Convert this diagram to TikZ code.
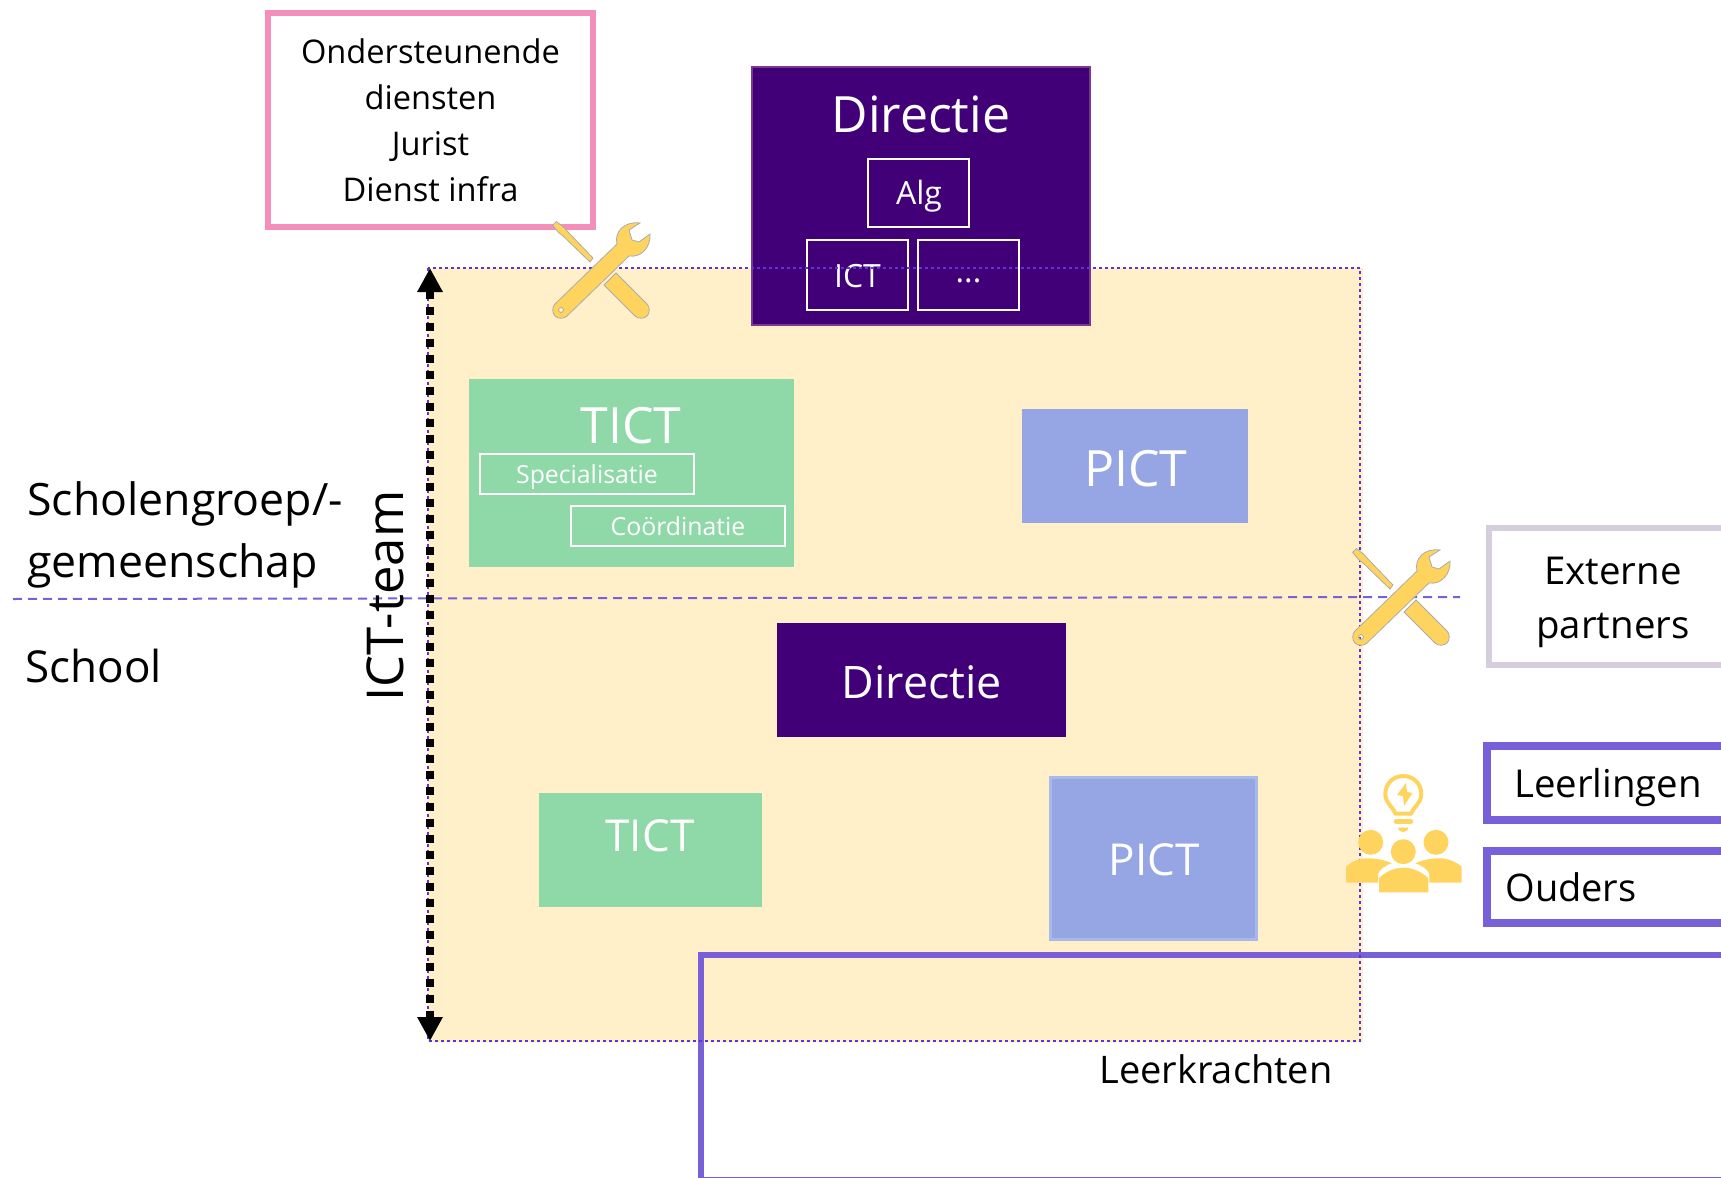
\documentclass[tikz,border=0pt]{standalone}
\usepackage{fontspec}
\setmainfont{Open Sans}
\usetikzlibrary{arrows.meta}

\definecolor{regie}{HTML}{420078}
\definecolor{tictgreen}{HTML}{8FD9A9}
\definecolor{pictblue}{HTML}{96A5E3}
\definecolor{pictedge}{HTML}{A9B9E9}
\definecolor{area}{HTML}{FFF0C9}
\definecolor{lijn}{HTML}{7860D8}
\definecolor{punt}{HTML}{5A36D6}
\definecolor{roze}{HTML}{F48FBB}
\definecolor{extern}{HTML}{D5CEDC}
\definecolor{icoon}{HTML}{FFD45E}
\definecolor{icoonrand}{HTML}{ABABAB}

\newcommand{\fs}[1]{\fontsize{#1}{1.25\dimexpr#1pt\relax}\selectfont}

\begin{document}
\begin{tikzpicture}[x=.5pt, y=-.5pt,
    regiebox/.style={fill=regie, draw=regie!70!pink, line width=.6pt},
    tictbox/.style={fill=tictgreen},
    pictbox/.style={fill=pictblue},
    wit/.style={draw=white, line width=1.1pt},
    witlabel/.style={text=white, inner sep=0pt},
    zwart/.style={text=black, inner sep=0pt},
    kader/.style={draw=lijn, line width=3pt},
    grijs/.style={fill=icoon, draw=icoonrand, line width=.4pt, even odd rule},
    geel/.style={fill=icoon}]
\path[use as bounding box, clip] (0,0) rectangle (1721,1178);

% ondersteuning
\node[draw=roze, line width=3pt, minimum width=162.5pt, minimum height=107pt, inner sep=0pt, outer sep=0pt,
      align=center, font=\fontsize{16.3}{23}\selectfont] (diensten) at (430.5,120)
      {Ondersteunende\\diensten\\Jurist\\Dienst infra};

% ICT-team vlak
\fill[area] (428,268) rectangle (1363,1042);
\coordinate (splitL) at (13,599);
\coordinate (splitR) at (1460,597);
\draw[lijn, line width=1pt, dash pattern=on 4.5pt off 3pt] (splitL) -- (splitR);

% scholengroep
\node[regiebox, minimum width=169pt, minimum height=129pt, inner sep=0pt] (dirtop) at (921,196) {};
\node[witlabel, font=\fs{25}] (dirtoplabel) at (921,114) {Directie};
\node[wit, minimum width=50.5pt, minimum height=34pt, inner sep=0pt] (alg) at (918.5,193) {};
\node[witlabel, font=\fs{16}] (alglabel) at (919,196) {Alg};
\node[wit, minimum width=50.5pt, minimum height=35pt, inner sep=0pt] (ict) at (857.5,275) {};
\node[witlabel, font=\fs{16}] (ictlabel) at (857.5,276.5) {ICT};
\node[wit, minimum width=50.5pt, minimum height=35pt, inner sep=0pt] (rest) at (968.5,275) {};
\node[witlabel, font=\fs{16}] (restlabel) at (968.5,281) {...};

\node[tictbox, minimum width=162.5pt, minimum height=94pt, inner sep=0pt] (tictgroep) at (631.5,473) {};
\node[witlabel, font=\fs{25}] (tictgrooplabel) at (631,426) {TICT};
\node[wit, minimum width=107pt, minimum height=20pt, inner sep=0pt] (special) at (587,474) {};
\node[witlabel, font=\fs{12.4}] (speciallabel) at (587,477) {Specialisatie};
\node[wit, minimum width=107pt, minimum height=20pt, inner sep=0pt] (coord) at (678,526) {};
\node[witlabel, font=\fs{12.4}] (coordlabel) at (678,526) {Coördinatie};

\node[pictbox, minimum width=113pt, minimum height=57pt, inner sep=0pt] (pictgroep) at (1135,466) {};
\node[witlabel, font=\fs{25}] (pictgrooplabel) at (1136,469) {PICT};

% school
\node[regiebox, draw=regie, minimum width=143.5pt, minimum height=56.5pt, inner sep=0pt] (dirschool) at (921.5,680) {};
\node[witlabel, font=\fs{22.4}] (dirschoollabel) at (922,682) {Directie};
\node[tictbox, minimum width=111.5pt, minimum height=57pt, inner sep=0pt] (tictschool) at (650.5,850) {};
\node[witlabel, font=\fs{22}] (tictschoollabel) at (650,836) {TICT};
\node[pictbox, draw=pictedge, line width=1.5pt, minimum width=103pt, minimum height=81pt, inner sep=0pt] (pictschool) at (1153.5,858.5) {};
\node[witlabel, font=\fs{22}] (pictschoollabel) at (1154,860) {PICT};

\draw[kader] (701,955) rectangle (1760,1180);
\node[zwart, font=\fs{19}] (leerkrachten) at (1216,1069) {Leerkrachten};

\draw[punt, line width=1.4pt, dash pattern=on 1.5pt off 1.5pt] (428,268) rectangle (1360,1041);

\coordinate (teamT) at (430,268);
\coordinate (teamB) at (430,1041);
\draw[black, line width=4pt, dash pattern=on 4pt off 4pt, {Triangle[width=12pt,length=12pt]}-{Triangle[width=12pt,length=12pt]}] (teamT) -- (teamB);

% links
\node[zwart, anchor=west, align=left, font=\fontsize{22.3}{30.7}\selectfont] (niveaugroep) at (27,535) {Scholengroep/-\\gemeenschap};
\node[zwart, anchor=west, font=\fs{22}] (niveauschool) at (25,666) {School};
\node[zwart, rotate=90, font=\fs{25.4}] (ictteam) at (385,596) {ICT-team};

% rechts
\draw[extern, line width=3pt] (1488.5,527.5) rectangle (1760,664.5);
\node[zwart, align=center, font=\fontsize{19.2}{27}\selectfont] (externe) at (1613,602) {Externe\\partners};
\draw[kader, line width=4pt] (1487,746) rectangle (1760,820);
\node[zwart, font=\fs{19.2}] (leerlingen) at (1608,788) {Leerlingen};
\draw[kader, line width=4pt] (1487,850.5) rectangle (1760,922.5);
\node[zwart, font=\fs{19}] (ouders) at (1571,887) {Ouders};

% gereedschap
\foreach \ix/\iy in {552/222,1352/549}{
\begin{scope}[shift={(\ix,\iy)}]
    \filldraw[grijs] (.7,3.3) -- (4.3,-.5) -- (12,5.5) -- (15,9) -- (41,36) -- (38,40) -- (11,14) -- (7,11) -- cycle;
    \filldraw[grijs] (52,63) -- (64,51) -- (95,82) .. controls (98,85) and (98,91) .. (95,94)
        .. controls (92,97) and (86,97) .. (83,94) -- cycle;
    \filldraw[grijs] (65,22) .. controls (62,10) and (72,-1) .. (88,1) -- (77,8) -- (80,18) -- (87,20) -- (98,12)
        .. controls (99,24) and (90,36) .. (77,34) -- (15,94) .. controls (12,97) and (6,97) .. (3,94)
        .. controls (0,91) and (0,85) .. (3,82) -- cycle (9,88) circle (2.5);
\end{scope}
}

% idee
\begin{scope}[shift={(1346,774)}]
    \draw[icoon, line width=2pt] (49.5,39.5) .. controls (47,33) and (39.3,29) .. (39.3,20)
        .. controls (39.3,10) and (47,2) .. (57.3,2) .. controls (67.6,2) and (75.3,10) .. (75.3,20)
        .. controls (75.3,29) and (67.6,33) .. (65,39.5) -- cycle;
    \fill[geel] (60,9) -- (51,21) -- (57,22) -- (58,32) -- (66.5,19) -- (61,18) -- cycle;
    \draw[icoon, line width=2.2pt, line cap=round] (50,47.5) -- (65,47.5);
    \fill[geel] (52,53.5) -- (62.5,53.5) .. controls (62,57) and (59,58) .. (57.3,58) .. controls (55,58) and (52.5,57) .. (52,53.5) -- cycle;
    \fill[geel] (24.7,68.3) circle (12.5);
    \fill[geel] (90,68.3) circle (12.5);
    \fill[geel] (57.3,77.7) circle (12.5);
    \fill[geel] (0,108.7) -- (0,92.7) .. controls (6,87) and (14,84.3) .. (22,84.3) .. controls (30,84.3) and (39,86) .. (45.7,89.3)
        .. controls (38,92) and (33,96) .. (32,100) -- (32,108.7) -- cycle;
    \fill[geel] (115.7,108.7) -- (115.7,92.7) .. controls (109,87) and (101,84.3) .. (93,84.3) .. controls (85,84.3) and (76,86) .. (69.3,89.3)
        .. controls (77,92) and (82,96) .. (83.3,100) -- (83.3,108.7) -- cycle;
    \fill[geel] (33,118.3) -- (33,104.3) .. controls (39,98) and (48,93.7) .. (57.3,93.7) .. controls (67,93.7) and (76,98) .. (82.3,104.3) -- (82.3,118.3) -- cycle;
\end{scope}
\end{tikzpicture}
\end{document}
